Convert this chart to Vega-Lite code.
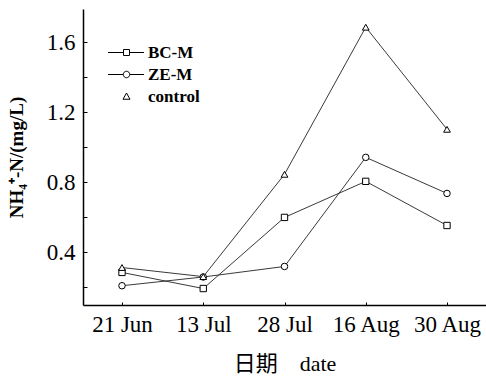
{
  "$schema": "https://vega.github.io/schema/vega-lite/v6.json",
  "width": 403,
  "height": 296,
  "autosize": "none",
  "padding": {"left": 83, "top": 9, "right": 0, "bottom": 74},
  "background": "white",
  "config": {
    "view": {"stroke": null},
    "font": "Liberation Serif, Noto Sans CJK SC",
    "axis": {
      "domainColor": "#000",
      "domainWidth": 1.5,
      "tickColor": "#000",
      "tickWidth": 1,
      "grid": false,
      "labelColor": "#000",
      "titleColor": "#000",
      "labelFont": "Liberation Serif",
      "titleFont": "Liberation Serif, Noto Sans CJK SC"
    },
    "legend": {
      "labelFont": "Liberation Serif",
      "labelColor": "#000"
    }
  },
  "datasets": {
    "nh4": [
      {"date": "21 Jun", "series": "BC-M", "value": 0.286},
      {"date": "13 Jul", "series": "BC-M", "value": 0.194},
      {"date": "28 Jul", "series": "BC-M", "value": 0.6},
      {"date": "16 Aug", "series": "BC-M", "value": 0.806},
      {"date": "30 Aug", "series": "BC-M", "value": 0.554},
      {"date": "21 Jun", "series": "ZE-M", "value": 0.21},
      {"date": "13 Jul", "series": "ZE-M", "value": 0.26},
      {"date": "28 Jul", "series": "ZE-M", "value": 0.32},
      {"date": "16 Aug", "series": "ZE-M", "value": 0.943},
      {"date": "30 Aug", "series": "ZE-M", "value": 0.737},
      {"date": "21 Jun", "series": "control", "value": 0.314},
      {"date": "13 Jul", "series": "control", "value": 0.262},
      {"date": "28 Jul", "series": "control", "value": 0.846},
      {"date": "16 Aug", "series": "control", "value": 1.686},
      {"date": "30 Aug", "series": "control", "value": 1.103}
    ]
  },
  "data": {"name": "nh4"},
  "encoding": {
    "x": {
      "field": "date",
      "type": "ordinal",
      "sort": ["21 Jun", "13 Jul", "28 Jul", "16 Aug", "30 Aug"],
      "scale": {"type": "point", "padding": 0.48},
      "axis": {
        "title": "日期\u00a0\u00a0\u00a0\u00a0date",
        "labelAngle": 0,
        "labelFontSize": 23,
        "labelPadding": 11,
        "tickSize": -3,
        "titleFontSize": 22,
        "titleFontWeight": "normal",
        "titlePadding": 17
      }
    },
    "y": {
      "field": "value",
      "type": "quantitative",
      "scale": {"domain": [0.1, 1.79], "nice": false, "zero": false},
      "axis": {
        "title": "NH₄⁺-N/(mg/L)",
        "values": [0.2, 0.4, 0.6, 0.8, 1.0, 1.2, 1.4, 1.6],
        "labelExpr": "(datum.value == 0.4 || datum.value == 0.8 || datum.value == 1.2 || datum.value == 1.6) ? format(datum.value, '.1f') : ''",
        "labelFontSize": 23,
        "labelPadding": 12,
        "tickSize": -4,
        "titleFontSize": 19,
        "titleFontWeight": "bold",
        "titlePadding": 20
      }
    }
  },
  "layer": [
    {
      "mark": {"type": "line", "color": "#222", "strokeWidth": 0.9},
      "encoding": {"detail": {"field": "series"}}
    },
    {
      "mark": {"type": "point", "filled": true, "fill": "white", "stroke": "#000", "strokeWidth": 1, "opacity": 1},
      "encoding": {
        "shape": {
          "field": "series",
          "type": "nominal",
          "scale": {"domain": ["BC-M", "ZE-M", "control"], "range": ["square", "circle", "triangle-up"]},
          "legend": null
        },
        "size": {
          "field": "series",
          "type": "nominal",
          "scale": {"domain": ["BC-M", "ZE-M", "control"], "range": [40, 45, 60]},
          "legend": null
        }
      }
    },
    {
      "transform": [{"filter": "false"}],
      "mark": {"type": "point", "filled": false, "color": "#000", "strokeWidth": 1, "opacity": 1},
      "encoding": {
        "shape": {
          "field": "series",
          "type": "nominal",
          "scale": {
            "domain": ["BC-M", "ZE-M", "control"],
            "range": [
              "M-3.7,0H-0.6M0.6,0H3.5M-0.6,-0.6H0.6V0.6H-0.6Z",
              "M-3.7,0H-0.65M0.65,0H3.5M-0.65,0A0.65,0.65 0 1,0 0.65,0A0.65,0.65 0 1,0 -0.65,0Z",
              "M0,-0.7L0.7,0.55L-0.7,0.55Z"
            ]
          },
          "legend": {
            "title": null,
            "orient": "none",
            "legendX": 35,
            "legendY": 35,
            "symbolSize": 100,
            "symbolStrokeWidth": 1,
            "symbolStrokeColor": "#000",
            "symbolFillColor": "transparent",
            "symbolOpacity": 1,
            "labelFontSize": 17,
            "labelFontWeight": "bold",
            "labelOffset": 13,
            "rowPadding": 4
          }
        }
      }
    }
  ],
  "resolve": {"scale": {"shape": "independent", "size": "independent"}}
}
